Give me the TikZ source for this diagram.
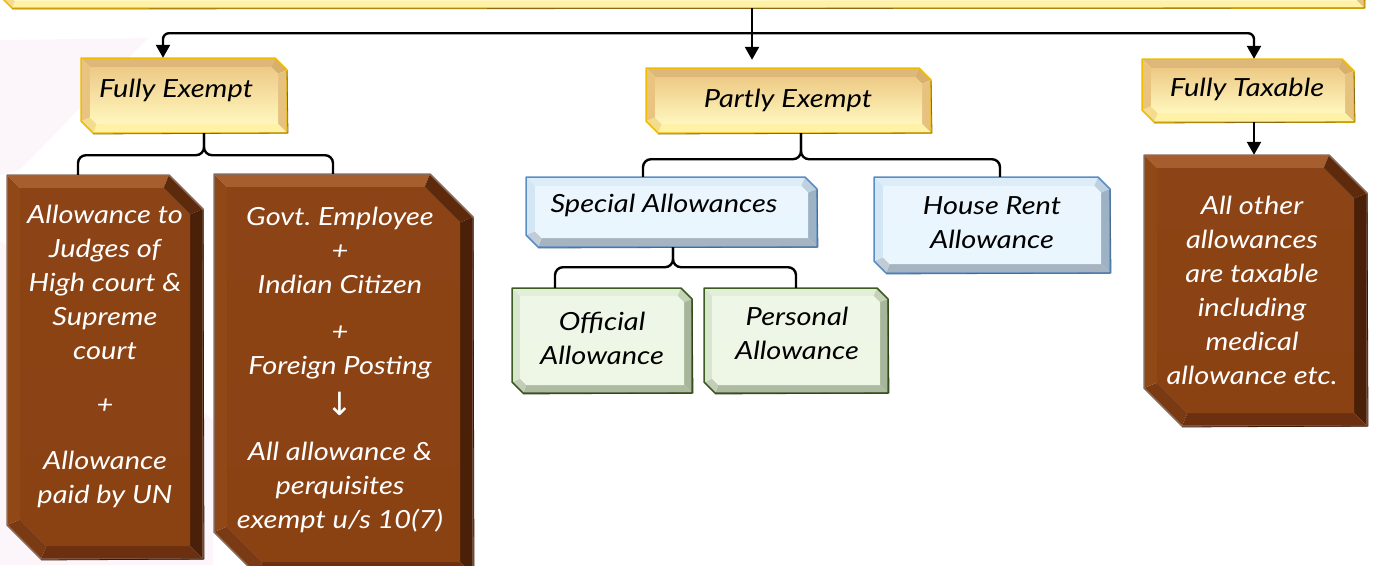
\documentclass[tikz,border=0pt]{standalone}
\usepackage{fontspec}
\setmainfont{Lato}[FakeStretch=1.16]
\newfontfamily\arrowfont{DejaVu Sans}
\usetikzlibrary{arrows.meta,calc}
\pgfdeclarelayer{bg}
\pgfsetlayers{bg,main}
\frenchspacing

% palettes for the bevelled boxes: top, right, bottom, left bands, two chamfer bands, face gradient, outline
\definecolor{ylt}{HTML}{DDB87A}\definecolor{ylr}{HTML}{E6C27E}\definecolor{ylb}{HTML}{FFF1A6}
\definecolor{yll}{HTML}{E8C47E}\definecolor{yltr}{HTML}{D8AF6C}\definecolor{ylbl}{HTML}{F4DC8E}
\definecolor{ylf1}{HTML}{EDCA86}\definecolor{ylf2}{HTML}{FFF7BE}\definecolor{ylline}{HTML}{EEBC00}
\definecolor{ylsh}{HTML}{8A6A14}

\definecolor{brt}{HTML}{A65E2E}\definecolor{brr}{HTML}{4A2009}\definecolor{brb}{HTML}{6C3010}
\definecolor{brl}{HTML}{914817}\definecolor{brtr}{HTML}{5E2A0C}\definecolor{brbl}{HTML}{7A3A13}
\definecolor{brf1}{HTML}{8C4315}\definecolor{brf2}{HTML}{8B4213}\definecolor{brline}{HTML}{8A6A5A}
\definecolor{brsh}{HTML}{3A1804}

\definecolor{blt}{HTML}{DCEDF9}\definecolor{blr}{HTML}{9EB2C5}\definecolor{blb}{HTML}{A6B4C1}
\definecolor{bll}{HTML}{D3E6F5}\definecolor{bltr}{HTML}{BDD1E3}\definecolor{blbl}{HTML}{C1CCD6}
\definecolor{blf1}{HTML}{EAF5FD}\definecolor{blf2}{HTML}{EAF6FE}\definecolor{blline}{HTML}{5A8DC3}
\definecolor{blsh}{HTML}{4A6A8A}

\definecolor{grt}{HTML}{E1EFD6}\definecolor{grr}{HTML}{A7B69A}\definecolor{grb}{HTML}{AEBAA2}
\definecolor{grl}{HTML}{D7E7CB}\definecolor{grtr}{HTML}{C4D2B8}\definecolor{grbl}{HTML}{C3CDB8}
\definecolor{grf1}{HTML}{EEF7E7}\definecolor{grf2}{HTML}{EEF7E6}\definecolor{grline}{HTML}{3C5A22}
\definecolor{grsh}{HTML}{2E4418}

\definecolor{haze}{HTML}{FCF6FA}

% \bevbox{name}{left}{top}{right}{bottom}{chamfer}{bevel}{palette}
\newcommand\bevbox[8]{%
  \pgfmathsetmacro\bcc{#6-0.586*#7}%
  \node[inner sep=0pt,minimum width={#4pt-#2pt},minimum height={#5pt-#3pt}]
    (#1) at ({(#2+#4)/2},{(#3+#5)/2}) {};
  \begin{pgfonlayer}{bg}
    \coordinate (#1-o1) at (#2,#3);
    \coordinate (#1-o2) at ({#4-#6},#3);
    \coordinate (#1-o3) at (#4,{#3+#6});
    \coordinate (#1-o4) at (#4,#5);
    \coordinate (#1-o5) at ({#2+#6},#5);
    \coordinate (#1-o6) at (#2,{#5-#6});
    \coordinate (#1-i1) at ({#2+#7},{#3+#7});
    \coordinate (#1-i2) at ({#4-#7-\bcc},{#3+#7});
    \coordinate (#1-i3) at ({#4-#7},{#3+#7+\bcc});
    \coordinate (#1-i4) at ({#4-#7},{#5-#7});
    \coordinate (#1-i5) at ({#2+#7+\bcc},{#5-#7});
    \coordinate (#1-i6) at ({#2+#7},{#5-#7-\bcc});
    \fill[#8t]  (#1-o1) -- (#1-o2) -- (#1-i2) -- (#1-i1) -- cycle;
    \fill[#8tr] (#1-o2) -- (#1-o3) -- (#1-i3) -- (#1-i2) -- cycle;
    \fill[#8r]  (#1-o3) -- (#1-o4) -- (#1-i4) -- (#1-i3) -- cycle;
    \fill[#8b]  (#1-o4) -- (#1-o5) -- (#1-i5) -- (#1-i4) -- cycle;
    \fill[#8bl] (#1-o5) -- (#1-o6) -- (#1-i6) -- (#1-i5) -- cycle;
    \fill[#8l]  (#1-o6) -- (#1-o1) -- (#1-i1) -- (#1-i6) -- cycle;
    \shade[top color=#8f1,bottom color=#8f2]
      (#1-i1) -- (#1-i2) -- (#1-i3) -- (#1-i4) -- (#1-i5) -- (#1-i6) -- cycle;
    \draw[#8line,line width=1.5pt,line join=round]
      (#1-o1) -- (#1-o2) -- (#1-o3) -- (#1-o4) -- (#1-o5) -- (#1-o6) -- cycle;
    \draw[#8sh,line width=0.8pt] ([yshift=-1pt]#1-o3) -- ([shift={(1pt,0pt)}]#1-o4) -- ([yshift=-1pt]#1-o5);
  \end{pgfonlayer}}

\tikzset{
  every node/.style={font=\fontsize{25}{34}\selectfont\itshape},
  dark/.style={text=black,align=center,inner sep=0pt},
  light/.style={text=white,align=center,inner sep=0pt},
  wire/.style={draw=black,line width=2.4pt,rounded corners=8pt},
  feed/.style={draw=black,line width=2.4pt,rounded corners=6pt,
    -{Triangle[width=14pt,length=13pt]}},
}

\begin{document}
\begin{tikzpicture}[x=1pt,y=-1pt]
\useasboundingbox (0,0) rectangle (1378,565);
\clip (0,0) rectangle (1378,565);

% faint decorative haze on the left, behind everything
\begin{pgfonlayer}{bg}
\fill[haze] (0,40) -- (148,38) -- (20,170) -- (0,175) -- cycle;
\fill[haze] (0,240) -- (213,420) -- (213,565) -- (0,565) -- cycle;
\end{pgfonlayer}

% boxes
\bevbox{root}{0}{-60}{1364}{8}{12}{7}{yl}
\bevbox{fe}{81}{58}{287}{133}{12}{9}{yl}
\bevbox{pe}{646}{68}{931}{133}{12}{9}{yl}
\bevbox{ft}{1142}{59}{1354}{122}{12}{9}{yl}
\bevbox{b1}{7}{175}{203}{559}{34}{13}{br}
\bevbox{b2}{214}{174}{473}{575}{43}{13}{br}
\bevbox{b3}{1144}{155}{1367}{426}{38}{13}{br}
\bevbox{sa}{526}{177}{817}{247}{12}{9}{bl}
\bevbox{hr}{874}{177}{1110}{273}{12}{9}{bl}
\bevbox{oa}{512}{288}{692}{393}{11}{8}{gr}
\bevbox{pa}{704}{288}{888}{393}{11}{8}{gr}

% texts
\node[dark] (fe-t) at (176,90) {Fully Exempt};
\node[dark] (pe-t) at (788,100) {Partly Exempt};
\node[dark] (ft-t) at (1247,89) {Fully Taxable};
\node[dark] (sa-t) at (664,205) {Special Allowances};
\node[dark] (hr-t) at (992,223) {House Rent\\Allowance};
\node[dark] (oa-t) at (602,338) {Official\\Allowance};
\node[dark] (pa-t) at (797,333) {Personal\\Allowance};
\node[light] (b1-t) at (105,356) {Allowance to\\Judges of\\High court \&\\Supreme\\court\\[20pt]+\\[22pt]Allowance\\paid by UN};
\node[light] (b2-t) at (340,370) {Govt. Employee\\+\\Indian Citizen\\[13pt]+\\Foreign Posting\\[7pt]{\arrowfont\fontsize{32}{34}\selectfont\textup{↓}}\\[11pt]All allowance \&\\perquisites\\exempt u/s 10(7)};
\node[light] (b3-t) at (1252,290) {All other\\allowances\\are taxable\\including\\medical\\allowance etc.};

% entry and exit points of the connectors
\coordinate (pe-in) at ([xshift=-36.5pt]pe.north);
\coordinate (fe-in) at ([xshift=-21pt]fe.north);
\coordinate (ft-in) at ([xshift=6pt]ft.north);
\coordinate (hub) at (root.south -| pe-in);
\coordinate (split) at ([yshift=-25pt]hub);

% from the top bar to the three categories
\draw[feed] (hub) -- ([yshift=8pt]pe-in);
\draw[feed] (split) -| (fe-in);
\draw[feed] (split) -| (ft-in);
\draw[feed] (ft.south -| ft-in) -- (ft-in |- b3.north);

% braces below the categories
\coordinate (fe-out) at ([xshift=20pt]fe.south);
\coordinate (fe-br) at ([yshift=-22pt]fe-out);
\draw[wire] (fe-out) -- (fe-br) -| ([xshift=-27pt]b1.north);
\draw[wire] (fe-out) -- (fe-br) -| ([xshift=-10.5pt]b2.north);

\coordinate (pe-out) at ([xshift=12.5pt]pe.south);
\coordinate (pe-br) at ([yshift=-26pt]pe-out);
\draw[wire] (pe-out) -- (pe-br) -| ([xshift=-28.5pt]sa.north);
\draw[wire] (pe-out) -- (pe-br) -| ([xshift=8pt]hr.north);

\coordinate (sa-out) at ([xshift=1.5pt]sa.south);
\coordinate (sa-br) at ([yshift=-20pt]sa-out);
\draw[wire] (sa-out) -- (sa-br) -| ([xshift=-47pt]oa.north);
\draw[wire] (sa-out) -- (sa-br) -| (pa.north);
\end{tikzpicture}
\end{document}
